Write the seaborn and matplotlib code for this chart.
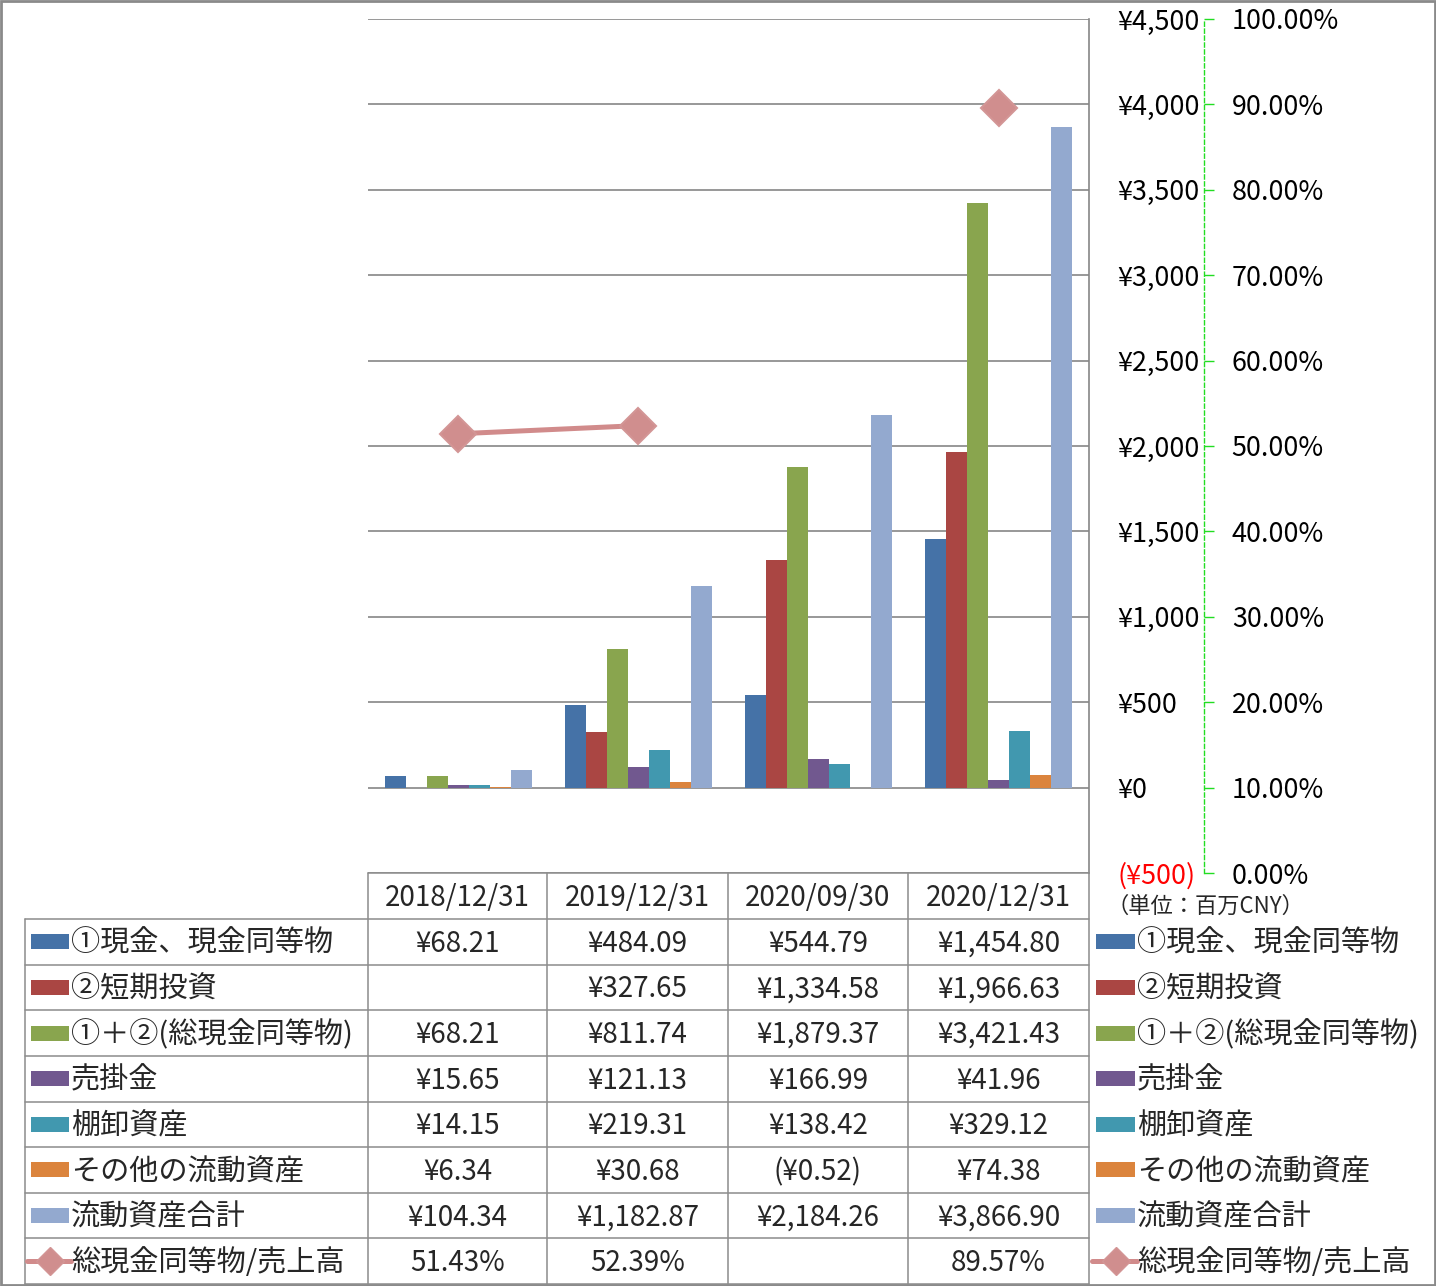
import numpy as np
import pandas as pd
import seaborn as sns
import matplotlib
matplotlib.use("Agg")
import matplotlib.pyplot as plt
from matplotlib.lines import Line2D
from matplotlib.patches import Rectangle

# ---------------- data ----------------
dates = ["2018/12/31", "2019/12/31", "2020/09/30", "2020/12/31"]
items = ["①現金、現金同等物", "②短期投資", "①＋②(総現金同等物)", "売掛金",
         "棚卸資産", "その他の流動資産", "流動資産合計"]
cash = [68.21, 484.09, 544.79, 1454.80]
short_inv = [np.nan, 327.65, 1334.58, 1966.63]
total_cash = [68.21, 811.74, 1879.37, 3421.43]
receivables = [15.65, 121.13, 166.99, 41.96]
inventory = [14.15, 219.31, 138.42, 329.12]
other_ca = [6.34, 30.68, -0.52, 74.38]
total_ca = [104.34, 1182.87, 2184.26, 3866.90]
ratio_label = "総現金同等物/売上高"
ratio = [51.43, 52.39, np.nan, 89.57]

colors = ["#4572A7", "#AA4643", "#89A54E", "#71588F", "#4198AF", "#DB843D", "#93A9CF"]
line_color = "#D18B8B"

series = [cash, short_inv, total_cash, receivables, inventory, other_ca, total_ca]

rows = []
for name, vals in zip(items, series):
    for d, v in zip(dates, vals):
        rows.append({"date": d, "item": name, "value": v})
df = pd.DataFrame(rows)

# ---------------- style ----------------
sns.set_theme(style="white")
plt.rcParams["font.family"] = ["Noto Sans CJK JP", "DejaVu Sans"]
FS = 20      # numbers in table
FST = 19.4   # axis tick labels
FSJ = 21     # japanese labels

W, H = 1436, 1286
fig = plt.figure(figsize=(W / 100, H / 100), dpi=100)

def fx(px):
    return px / W

def fy(py):
    return 1 - py / H

L, R, T, B = 368, 1089, 19, 873
ax = fig.add_axes([fx(L), fy(B), fx(R) - fx(L), fy(T) - fy(B)])

sns.barplot(data=df, x="date", y="value", hue="item", order=dates, hue_order=items,
            palette=colors, width=0.815, saturation=1, linewidth=0, legend=False, ax=ax)

ax.set_xlim(-0.5, len(dates) - 0.5)
ax.set_ylim(-500, 4500)
ax.set_xlabel("")
ax.set_ylabel("")
ax.set_xticks([])
ax.grid(axis="y", color="#868686", linewidth=1.2)
ax.set_axisbelow(True)
for s in ["left", "top", "bottom"]:
    ax.spines[s].set_visible(False)
ax.spines["right"].set_color("#868686")
ax.spines["right"].set_linewidth(1.2)

# secondary axis
ax2 = ax.twinx()
ax2.set_ylim(0, 100)
pt = np.arange(0, 101, 10)
ax2.set_yticks(pt)
ax2.set_yticklabels([f"{v:.2f}%" for v in pt])
for s in ["left", "top", "bottom"]:
    ax2.spines[s].set_visible(False)
ax2.spines["right"].set_position(("outward", 115 * 72 / 100))
ax2.spines["right"].set_color("#22DD22")
ax2.spines["right"].set_linestyle((0, (3, 2)))
ax2.spines["right"].set_linewidth(1)
ax2.tick_params(axis="y", colors="#22DD22", labelcolor="black", length=7, width=1,
                direction="out", pad=13, labelsize=FST)
ax2.grid(False)

# primary y labels on the right (after twinx)
yt = np.arange(-500, 4501, 500)

def yen(v):
    if v < 0:
        return f"(¥{abs(v):,.0f})"
    return f"¥{v:,.0f}"

ax.set_yticks(yt)
ax.set_yticklabels([yen(v) for v in yt])
ax.yaxis.tick_right()
ax.tick_params(axis="y", length=0, pad=20.5, labelsize=FST, left=False, labelleft=False,
               right=True, labelright=True)
for lab, v in zip(ax.get_yticklabels(), yt):
    lab.set_color("red" if v < 0 else "black")

xpos = np.arange(len(dates))
ax2.plot(xpos, ratio, color=line_color, linewidth=3.6, marker="D", markersize=18.5,
         markerfacecolor="#D08E8E", markeredgecolor="#D39595", markeredgewidth=1.5,
         solid_joinstyle="round", zorder=5, clip_on=False)

# ---------------- data table ----------------
grid_c = "#8C8C8C"
col_edges = [368, 547, 728, 908, 1089]
row_top = 919
row_h = (1284 - 919) / 8
label_left = 25
dy = 2  # text baseline nudge (px)

def hline(y, x0, x1):
    fig.add_artist(Line2D([fx(x0), fx(x1)], [fy(y), fy(y)], color=grid_c, lw=1.1))

def vline(x, y0, y1):
    fig.add_artist(Line2D([fx(x), fx(x)], [fy(y0), fy(y1)], color=grid_c, lw=1.1))

hline(B, col_edges[0], col_edges[-1])
for i in range(9):
    hline(row_top + i * row_h, label_left, col_edges[-1])
for x in col_edges:
    vline(x, B, 1284)
vline(label_left, row_top, 1284)

for j, d in enumerate(dates):
    cx = (col_edges[j] + col_edges[j + 1]) / 2
    fig.text(fx(cx), fy((B + row_top) / 2 + dy), d, ha="center", va="center", fontsize=FS)

def money(v):
    if v is None or (isinstance(v, float) and np.isnan(v)):
        return ""
    if v < 0:
        return f"(¥{abs(v):,.2f})"
    return f"¥{v:,.2f}"

all_labels = items + [ratio_label]
for i, (name, vals) in enumerate(zip(items, series)):
    cy = row_top + (i + 0.5) * row_h
    for j, v in enumerate(vals):
        cx = (col_edges[j] + col_edges[j + 1]) / 2
        fig.text(fx(cx), fy(cy + dy), money(v), ha="center", va="center", fontsize=FS)
cy = row_top + 7.5 * row_h
for j, v in enumerate(ratio):
    cx = (col_edges[j] + col_edges[j + 1]) / 2
    txt = "" if np.isnan(v) else f"{v:.2f}%"
    fig.text(fx(cx), fy(cy + dy), txt, ha="center", va="center", fontsize=FS)

def legend_key(x0, x1, tx, cy, idx):
    if idx < len(items):
        fig.add_artist(Rectangle((fx(x0), fy(cy + 7.5)), fx(x1) - fx(x0), 15 / H,
                                 facecolor=colors[idx], edgecolor="none"))
    else:
        fig.add_artist(Line2D([fx(x0 - 4), fx(x1 + 2)], [fy(cy), fy(cy)], color=line_color,
                              lw=3.6, solid_capstyle="round"))
        fig.add_artist(Line2D([fx((x0 + x1) / 2)], [fy(cy)], color=line_color,
                              marker="D", markersize=14, linestyle="none",
                              markerfacecolor="#D08E8E", markeredgecolor="#D39595"))
    fig.text(fx(tx), fy(cy + dy), all_labels[idx], ha="left", va="center", fontsize=FSJ)

for i in range(8):
    cy = row_top + (i + 0.5) * row_h
    legend_key(31, 69, 71, cy, i)
    legend_key(1096, 1135, 1137, cy, i)

fig.text(fx(1106), fy(906), "（単位：百万CNY）", ha="left", va="center", fontsize=16)

# outer frame
fig.add_artist(Rectangle((0.0006, 0.0006), 0.9988, 0.9988, transform=fig.transFigure,
                         facecolor="none", edgecolor="#8A8A8A", lw=2))

fig.savefig("out.png", dpi=100)
